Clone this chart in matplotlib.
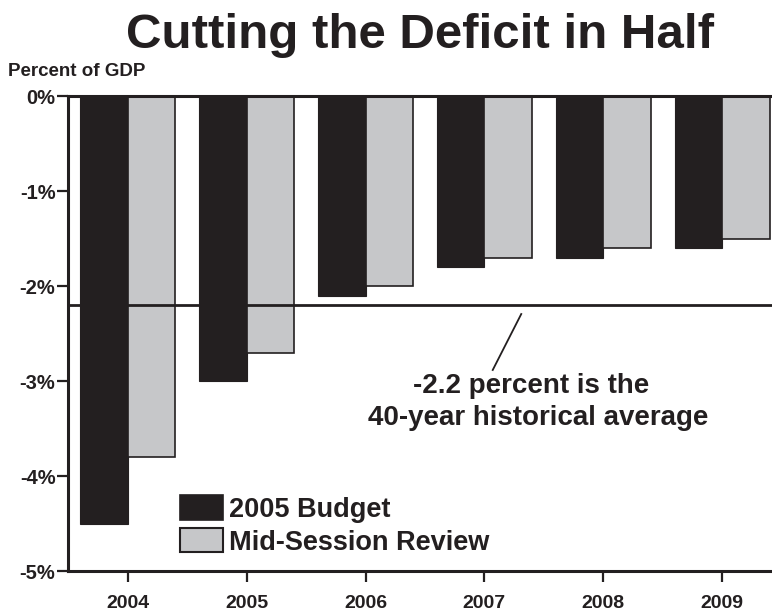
import matplotlib
matplotlib.use("Agg")
import matplotlib.pyplot as plt
from matplotlib.patches import Rectangle
import numpy as np

years = [2004, 2005, 2006, 2007, 2008, 2009]
budget_2005 = [-4.5, -3.0, -2.1, -1.8, -1.7, -1.6]
mid_session = [-3.8, -2.7, -2.0, -1.7, -1.6, -1.5]
hist_avg = -2.2
yticks = [0, -1, -2, -3, -4, -5]
ytick_labels = ["0%", "-1%", "-2%", "-3%", "-4%", "-5%"]
series_names = ["2005 Budget", "Mid-Session Review"]

INK = '#231f20'
GRAY = '#c6c7c9'

plt.rcParams['font.family'] = ['Liberation Sans', 'DejaVu Sans']
plt.rcParams['font.weight'] = 'bold'

fig = plt.figure(figsize=(7.72, 6.13), dpi=100)
ax = fig.add_axes([68/772, 1-571/613, 704/772, (571-96)/613])

x = np.array(years, dtype=float)
w = 0.4
ax.bar(x - w/2, budget_2005, width=w, color=INK, edgecolor=INK,
       linewidth=0.8, zorder=2)
ax.bar(x + w/2, mid_session, width=w, color=GRAY, edgecolor=INK,
       linewidth=1.2, zorder=2)

ax.axhline(hist_avg, color=INK, lw=2.0, zorder=3)

ax.set_ylim(-5, 0)
ax.set_xlim(2003.496, 2009.42)
ax.set_yticks(yticks)
ax.set_yticklabels(ytick_labels, fontsize=14.5, fontweight='bold')
ax.set_xticks(years)
ax.set_xticklabels([str(y) for y in years], fontsize=14, fontweight='bold')

for s in ['left', 'bottom', 'top']:
    ax.spines[s].set_linewidth(2.2)
    ax.spines[s].set_color(INK)
ax.spines['right'].set_visible(False)
ax.tick_params(axis='y', length=8, width=1.6, pad=1, color=INK, labelcolor=INK)
ax.tick_params(axis='x', length=8, width=1.6, pad=9, color=INK, labelcolor=INK)

fig.text(420/772, 1-48/613, 'Cutting the Deficit in Half', ha='center', va='baseline',
         fontsize=35.5, fontweight='bold', color=INK)
fig.text(8/772, 1-76/613, 'Percent of GDP', ha='left', va='baseline',
         fontsize=13.5, fontweight='bold', color=INK)

ax.plot([2007.31, 2007.07], [-2.295, -2.884], color=INK, lw=1.3, zorder=3)
ax.text(2007.39, -3.126, '-2.2 percent is the', ha='center', va='baseline',
        fontsize=20, fontweight='bold', color=INK)
ax.text(2007.45, -3.463, '40-year historical average', ha='center', va='baseline',
        fontsize=20, fontweight='bold', color=INK)

# legend (manual, in axes coordinates)
ax.add_patch(Rectangle((0.159, 0.107), 0.061, 0.053, transform=ax.transAxes,
                       facecolor=INK, edgecolor=INK, lw=1.2, zorder=4))
ax.add_patch(Rectangle((0.159, 0.040), 0.061, 0.0505, transform=ax.transAxes,
                       facecolor=GRAY, edgecolor=INK, lw=1.5, zorder=4))
ax.text(0.2287, 0.1137, series_names[0], transform=ax.transAxes, ha='left',
        va='baseline', fontsize=19.5, fontweight='bold', color=INK)
ax.text(0.2287, 0.0442, series_names[1], transform=ax.transAxes, ha='left',
        va='baseline', fontsize=19.5, fontweight='bold', color=INK)

fig.savefig('out.png', dpi=100)
